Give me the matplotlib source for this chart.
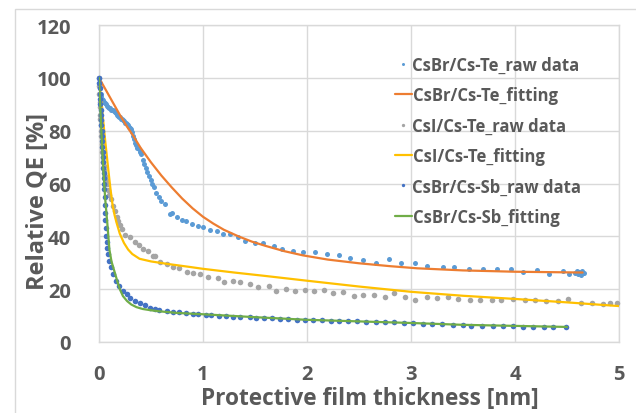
import numpy as np
import matplotlib
matplotlib.use("Agg")
import matplotlib.pyplot as plt
from matplotlib.patches import Rectangle

# ---------------- data ----------------
csbr_te_raw = [
    (0, 100), (0.005, 98), (0.01, 96), (0.015, 94), (0.02, 93), (0.03, 92), (0.04, 91.5),
    (0.05, 91), (0.06, 90.5), (0.07, 90), (0.08, 89.5), (0.09, 89), (0.10, 88.5), (0.11, 88.5),
    (0.12, 88), (0.13, 88), (0.14, 87.5), (0.15, 87), (0.16, 86.5), (0.17, 86), (0.18, 85.5),
    (0.19, 85), (0.20, 85), (0.21, 84.5), (0.22, 84.5), (0.23, 84), (0.24, 83.5), (0.25, 83),
    (0.26, 83), (0.27, 82.5), (0.28, 82), (0.29, 81.5), (0.30, 81), (0.31, 80.5), (0.32, 79.5),
    (0.33, 78), (0.34, 77), (0.35, 75.5), (0.36, 74.5), (0.37, 73.5), (0.38, 73), (0.39, 72),
    (0.40, 71), (0.42, 69), (0.43, 67.5), (0.45, 66), (0.46, 64.5), (0.48, 63), (0.50, 61.5),
    (0.51, 60), (0.53, 58.5), (0.55, 56.5), (0.58, 55), (0.60, 53.5), (0.63, 52.3), (0.68, 48.5),
    (0.70, 49), (0.75, 47.3), (0.80, 46), (0.84, 45.8), (0.89, 44.7), (0.95, 44), (1.00, 43.6),
    (1.07, 42.5), (1.13, 42), (1.19, 41), (1.26, 41), (1.34, 39.8), (1.40, 38.3), (1.50, 37.5),
    (1.58, 37.5), (1.68, 36.3), (1.76, 35.2), (1.87, 34.5), (1.96, 34), (2.08, 34), (2.19, 33.3),
    (2.31, 33), (2.41, 31.8), (2.54, 31), (2.66, 30), (2.79, 31.4), (2.90, 30), (3.04, 30),
    (3.15, 28.8), (3.31, 28.4), (3.41, 28.4), (3.56, 27.7), (3.69, 27.7), (3.83, 27.7),
    (3.96, 27.7), (4.08, 26.6), (4.21, 27.3), (4.33, 25.8), (4.46, 26.9), (4.52, 25.8),
    (4.58, 26), (4.60, 26.8), (4.61, 25.6), (4.62, 26.4), (4.63, 25.5), (4.64, 26.8),
    (4.65, 26), (4.66, 26.3),
]
csbr_te_fit = [
    (0, 100), (0.05, 96.5), (0.1, 93), (0.15, 89.5), (0.2, 86), (0.27, 81.5), (0.33, 78),
    (0.4, 73.5), (0.5, 68), (0.6, 63), (0.7, 58.5), (0.8, 54.3), (0.9, 50.6), (1.0, 47.4),
    (1.1, 44.8), (1.2, 42.5), (1.34, 40), (1.47, 38), (1.6, 36.4), (1.78, 34.4), (1.96, 32.8),
    (2.2, 31.2), (2.5, 29.8), (2.8, 28.7), (3.06, 27.9), (3.5, 27.1), (4.0, 26.6), (4.65, 26.3),
]
csi_te_raw = [
    (0, 100), (0.002, 97), (0.004, 94), (0.006, 91), (0.008, 89), (0.01, 86), (0.012, 84.5),
    (0.015, 82), (0.018, 80), (0.02, 78), (0.025, 75), (0.03, 72), (0.035, 70), (0.04, 68),
    (0.045, 66.5), (0.05, 65), (0.06, 63), (0.07, 61.5), (0.08, 60), (0.09, 57.5), (0.1, 55.5),
    (0.12, 54), (0.13, 51.5), (0.15, 49.6), (0.17, 47.3), (0.18, 45.8), (0.2, 44.3),
    (0.22, 42.8), (0.25, 40.5), (0.3, 39.8), (0.35, 38), (0.38, 36.7), (0.42, 35.2),
    (0.47, 34.5), (0.52, 32.6), (0.54, 32.6), (0.59, 30.3), (0.65, 29.5), (0.71, 28.4),
    (0.77, 28), (0.85, 26.5), (0.9, 26), (0.97, 25.8), (1.05, 24.6), (1.14, 24.2), (1.2, 22.7),
    (1.29, 23), (1.36, 22.7), (1.45, 22), (1.53, 20.8), (1.63, 21.2), (1.7, 19.3), (1.8, 20),
    (1.88, 19.3), (1.98, 19.7), (2.07, 19.3), (2.16, 19.7), (2.25, 18.6), (2.35, 18.9),
    (2.45, 17.4), (2.54, 17.8), (2.64, 17.8), (2.75, 17), (2.84, 18.4), (2.94, 17),
    (3.04, 15.9), (3.15, 17), (3.25, 16.7), (3.36, 17), (3.45, 16.3), (3.57, 15.9),
    (3.66, 15.9), (3.78, 15.9), (3.87, 15.9), (3.98, 16.3), (4.1, 15.9), (4.19, 15.9),
    (4.3, 15.5), (4.41, 15.5), (4.51, 16.3), (4.63, 14.8), (4.74, 14.8), (4.85, 14.4),
    (4.91, 14.8), (4.98, 14.8),
]
csi_te_fit = [
    (0, 100), (0.03, 88), (0.06, 76), (0.09, 65), (0.11, 58), (0.13, 52), (0.15, 48),
    (0.17, 45), (0.2, 41), (0.24, 37.5), (0.28, 35), (0.32, 33.3), (0.39, 31.5), (0.5, 30.5),
    (0.65, 29.6), (0.875, 28.4), (1.0, 27.7), (1.3, 26.3), (1.6, 25), (2.0, 23.2), (2.5, 21),
    (3.0, 19), (3.5, 17.5), (4.0, 16.3), (4.5, 15), (5.0, 13.6),
]
csbr_sb_raw = [
    (0, 100), (0.003, 98), (0.005, 96), (0.008, 94), (0.01, 92), (0.012, 90), (0.015, 88),
    (0.018, 86), (0.02, 84), (0.022, 82), (0.025, 80), (0.028, 78), (0.03, 76), (0.032, 74),
    (0.035, 72), (0.037, 70), (0.04, 68), (0.042, 66), (0.045, 64), (0.047, 62), (0.05, 60),
    (0.052, 58), (0.055, 55), (0.057, 52), (0.06, 49), (0.062, 46), (0.065, 43), (0.07, 40),
    (0.075, 38), (0.08, 35.5), (0.09, 33.3), (0.1, 30.7), (0.12, 28.4), (0.13, 25.8),
    (0.16, 23), (0.19, 21.2), (0.23, 19.3), (0.27, 18.2), (0.3, 16.7), (0.35, 15.5),
    (0.39, 14.8), (0.44, 14), (0.49, 12.9), (0.54, 12.5), (0.58, 12.1), (0.65, 11.7),
    (0.71, 11.4), (0.77, 11.4), (0.84, 11), (0.9, 10.6), (0.95, 10.6), (1.03, 10.2),
    (1.08, 10.2), (1.15, 9.8), (1.22, 9.8), (1.29, 9.5), (1.36, 9.5), (1.45, 9.5), (1.51, 9.1),
    (1.59, 9.1), (1.66, 9.1), (1.74, 8.7), (1.82, 8.7), (1.9, 8.3), (1.98, 8.3), (2.06, 8.3),
    (2.14, 8.3), (2.23, 8.0), (2.31, 8.0), (2.39, 8.0), (2.48, 8.0), (2.57, 7.6), (2.66, 7.6),
    (2.75, 7.6), (2.84, 7.6), (2.93, 7.2), (3.02, 7.2), (3.12, 6.9), (3.2, 6.8), (3.3, 6.7),
    (3.4, 6.4), (3.5, 6.3), (3.58, 6.2), (3.68, 6.2), (3.79, 6.1), (3.88, 6.0), (3.98, 6.0),
    (4.08, 5.8), (4.17, 5.8), (4.28, 5.7), (4.37, 5.7), (4.49, 5.6),
]
csbr_sb_fit = [
    (0, 100), (0.02, 82), (0.04, 66), (0.06, 54), (0.08, 45), (0.1, 35), (0.12, 30.5),
    (0.15, 26.5), (0.18, 22.5), (0.2, 20), (0.23, 17.4), (0.27, 15.5), (0.31, 14.2),
    (0.36, 13.2), (0.42, 12.5), (0.5, 12), (0.56, 11.7), (0.75, 11), (1.0, 10.5), (1.5, 9.4),
    (2.0, 8.4), (2.5, 7.8), (3.0, 7.2), (3.5, 6.5), (4.0, 6.1), (4.5, 5.7),
]
series_labels = ["CsBr/Cs-Te_raw data", "CsBr/Cs-Te_fitting", "CsI/Cs-Te_raw data",
                 "CsI/Cs-Te_fitting", "CsBr/Cs-Sb_raw data", "CsBr/Cs-Sb_fitting"]
x_ticks = [0, 1, 2, 3, 4, 5]
y_ticks = [0, 20, 40, 60, 80, 100, 120]

# ---------------- style ----------------
FONT = "Open Sans"
TXT = "#595959"
GRID = "#D9D9D9"

W, H = 636, 414
fig = plt.figure(figsize=(W / 100, H / 100), dpi=100)
fig.patch.set_facecolor("white")

# chart area border
fig.add_artist(Rectangle((15 / W, -0.1), 1.2, 1 - 10 / H + 0.1, transform=fig.transFigure,
                         fill=False, edgecolor=GRID, lw=1.0))

ax = fig.add_axes([99 / W, 1 - 343 / H, (619 - 99) / W, (343 - 26) / H])
ax.set_xlim(0, 5)
ax.set_ylim(0, 120)
ax.set_xticks(x_ticks)
ax.set_yticks(y_ticks)
ax.grid(True, color=GRID, lw=1.0)
ax.set_axisbelow(True)
for s in ax.spines.values():
    s.set_color(GRID)
    s.set_linewidth(1.0)
ax.tick_params(length=0, labelsize=14.5, labelcolor=TXT)
for lab in ax.get_xticklabels() + ax.get_yticklabels():
    lab.set_fontweight("bold")
    lab.set_family(FONT)
ax.tick_params(axis="x", pad=16)
ax.tick_params(axis="y", pad=20)

def arr(p):
    a = np.array(p, dtype=float)
    return a[:, 0], a[:, 1]

cols = ["#5B9BD5", "#ED7D31", "#A5A5A5", "#FFC000", "#4472C4", "#70AD47"]
data = [csbr_te_raw, csbr_te_fit, csi_te_raw, csi_te_fit, csbr_sb_raw, csbr_sb_fit]
handles = []
for i, (d, c, lab) in enumerate(zip(data, cols, series_labels)):
    x, y = arr(d)
    if i % 2 == 0:
        ms = 3.6 if i == 0 else 4.0
        h, = ax.plot(x, y, ls="none", marker="o", ms=ms, mfc=c, mec=c, mew=0,
                     label=lab, zorder=3 + i, clip_on=False)
    else:
        h, = ax.plot(x, y, ls="-", color=c, lw=1.6, label=lab, zorder=3 + i,
                     solid_capstyle="round")
    handles.append(h)

leg = ax.legend(handles=handles, loc="upper left", bbox_to_anchor=(380 / W, 1 - 42 / H),
                bbox_transform=fig.transFigure, frameon=False, markerscale=0.6,
                handlelength=1.0, handletextpad=0.05, labelspacing=0.74,
                prop={"family": FONT, "weight": "bold", "size": 12})
for t in leg.get_texts():
    t.set_color(TXT)

ax.set_xlabel("Protective film thickness [nm]", fontsize=16.3, fontweight="bold",
              family=FONT, color=TXT)
ax.set_ylabel("Relative QE [%]", fontsize=17, fontweight="bold",
              family=FONT, color=TXT)
ax.xaxis.set_label_coords((369.5 - 99) / 520, (343 - 387) / 317)
ax.yaxis.set_label_coords((50 - 99) / 520, (343 - 202) / 317)

fig.savefig("out.png", dpi=100)
